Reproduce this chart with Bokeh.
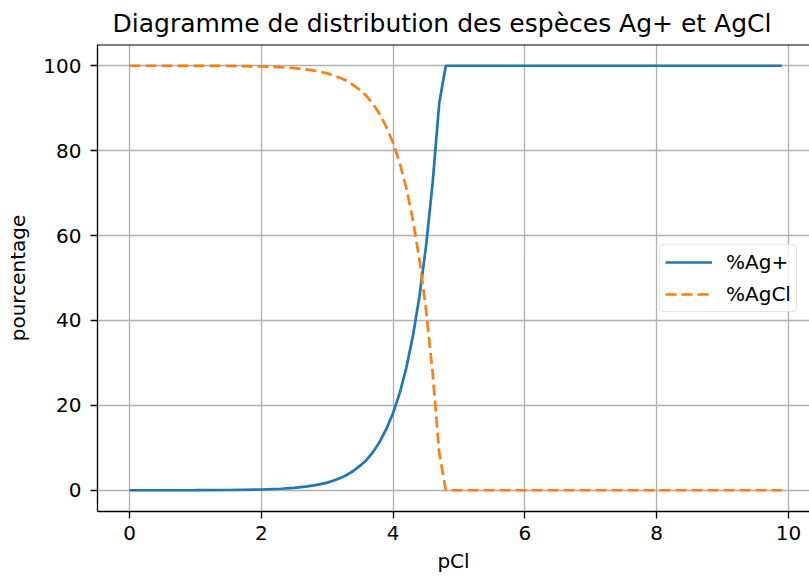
from bokeh.plotting import figure
from bokeh.models import Range1d, Legend, LegendItem, Span, FixedTicker, Title
from bokeh.embed import file_html
from bokeh.resources import INLINE

# pCl values and percentages
pcl = [0.0, 0.5, 1.0, 1.5, 2.0, 2.3, 2.5, 2.7, 2.8, 2.9, 3.0, 3.1, 3.2, 3.3,
       3.4, 3.5, 3.6, 3.7, 3.8, 3.9, 4.0, 4.1, 4.2, 4.3, 4.4, 4.5, 4.6, 4.7,
       4.8, 6.0, 8.0, 9.9]
pct_ag = [0.0, 0.01, 0.02, 0.06, 0.18, 0.36, 0.58, 0.9, 1.15, 1.45, 1.8, 2.3,
          2.9, 3.6, 4.6, 5.8, 7.2, 9.1, 11.5, 14.5, 18.2, 22.9, 28.8, 36.3,
          45.7, 57.5, 72.4, 91.2, 100.0, 100.0, 100.0, 100.0]
pct_agcl = [0.0 if a >= 100 else 100.0 - a for a in pct_ag]
x_ticks = [0, 2, 4, 6, 8, 10]
y_ticks = [0, 20, 40, 60, 80, 100]

FONT = "DejaVu Sans"

p = figure(width=809, height=578, output_backend="svg", toolbar_location=None,
           x_range=Range1d(-0.486, 10.319), y_range=Range1d(-5, 105),
           min_border_left=97, min_border_right=0, min_border_top=44,
           min_border_bottom=67, title=None)
p.outline_line_color = None
p.background_fill_color = "white"
p.border_fill_color = "white"

t = Title(text="Diagramme de distribution des espèces Ag+ et AgCl",
          text_font=FONT, text_font_size="25px", text_font_style="normal",
          align="left", text_color="#000000", offset=15, standoff=13)
p.add_layout(t, "above")

for ax in (p.xaxis[0], p.yaxis[0]):
    ax.axis_line_color = "black"
    ax.axis_line_width = 1.3
    ax.major_tick_line_color = "black"
    ax.major_tick_line_width = 1.3
    ax.major_tick_out = 7
    ax.major_tick_in = 0
    ax.minor_tick_line_color = None
    ax.major_label_text_font = FONT
    ax.major_label_text_font_size = "20px"
    ax.major_label_text_color = "#000000"
    ax.axis_label_text_font = FONT
    ax.axis_label_text_font_size = "20px"
    ax.axis_label_text_font_style = "normal"
    ax.axis_label_text_color = "#000000"

p.xaxis.ticker = FixedTicker(ticks=x_ticks)
p.yaxis.ticker = FixedTicker(ticks=y_ticks)
p.xaxis.axis_label = "pCl"
p.yaxis.axis_label = "pourcentage"
p.xaxis.major_label_standoff = 7
p.yaxis.major_label_standoff = 9
p.xaxis.axis_label_standoff = 6
p.yaxis.axis_label_standoff = 10

p.grid.grid_line_color = "#b0b0b0"
p.grid.grid_line_width = 1.3

top = Span(location=105, dimension="width", line_color="black", line_width=2)
p.add_layout(top)

r1 = p.line(pcl, pct_ag, line_color="#1f77b4", line_width=2.7)
r2 = p.line(pcl, pct_agcl, line_color="#ff7f0e", line_width=2.7, line_dash="11 5")

legend = Legend(items=[LegendItem(label="%Ag+", renderers=[r1]),
                       LegendItem(label="%AgCl", renderers=[r2])],
                location=(562, 199))
legend.label_text_font = FONT
legend.label_text_font_size = "20px"
legend.label_text_color = "#000000"
legend.glyph_width = 47
legend.glyph_height = 22
legend.label_standoff = 14
legend.spacing = 8
legend.padding = 5
legend.margin = 0
legend.border_line_color = "#cccccc"
legend.border_line_width = 1.3
legend.border_radius = 4
legend.background_fill_alpha = 0.8
p.add_layout(legend)

open("out.html", "w").write(file_html(p, INLINE))
